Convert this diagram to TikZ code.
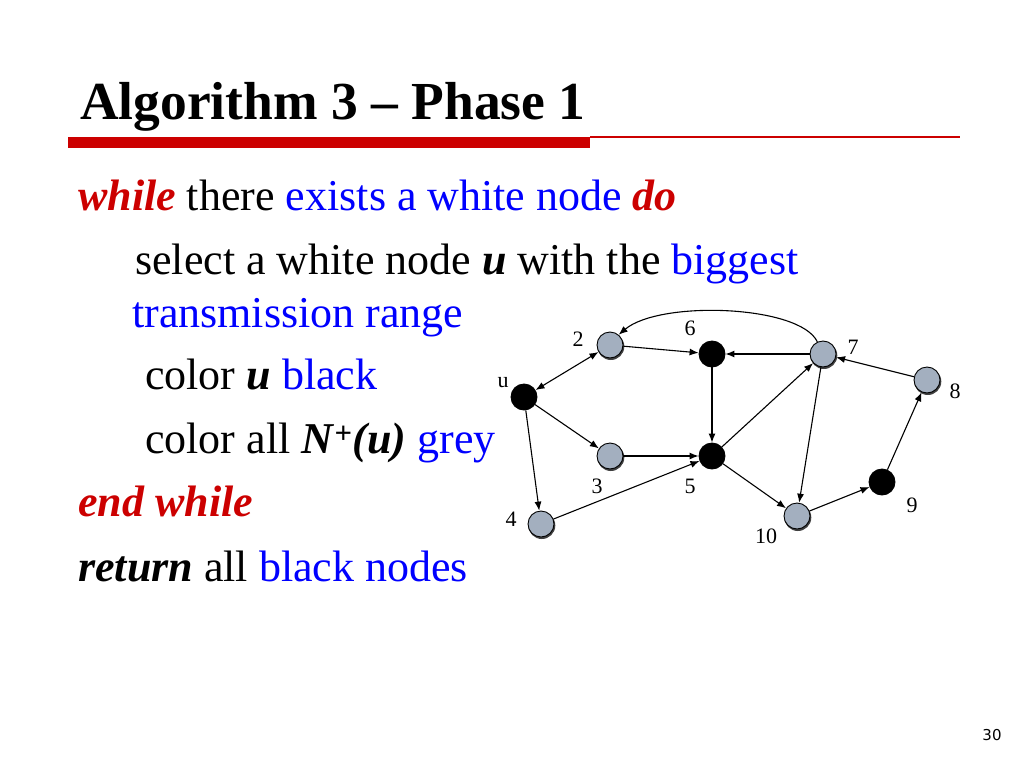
\documentclass[tikz,border=0pt]{standalone}
\usepackage{fontspec}
\setmainfont{Liberation Serif}
\newfontfamily\pagefont{DejaVu Sans}
\usetikzlibrary{arrows.meta}
\definecolor{myred}{HTML}{CC0000}
\definecolor{myblue}{HTML}{0000FF}
\definecolor{nodegrey}{HTML}{A3AFBF}
\begin{document}
\begin{tikzpicture}[x=1pt,y=-1pt,
  txt/.style={anchor=base west,inner sep=0pt,font=\fontsize{44}{50}\selectfont},
  gnode/.style={circle,draw=black,line width=0.9pt,fill=nodegrey,minimum size=26pt,inner sep=0pt},
  bnode/.style={circle,draw=black,line width=0.9pt,fill=black,minimum size=26pt,inner sep=0pt},
  lbl/.style={inner sep=0pt,font=\fontsize{22}{24}\selectfont},
  arr/.style={line width=1.1pt,-{Latex[length=9pt,width=7pt]}},
  barr/.style={line width=1.1pt,{Latex[length=9pt,width=7pt]}-{Latex[length=9pt,width=7pt]}}]
\useasboundingbox[fill=white] (0,0) rectangle (1024,768);
% title
\node[anchor=base west,inner sep=0pt,font=\fontsize{53.5}{60}\selectfont\bfseries] (title) at (80,119) {Algorithm 3 -- Phase 1};
\fill[myred] (68,137) rectangle (590,148);
\fill[myred] (590,135.5) rectangle (960,137.5);
% text
\node[txt] (t1) at (78,210) {\textcolor{myred}{\textbf{\textit{while}}} there \textcolor{myblue}{exists a white node} \textcolor{myred}{\textbf{\textit{do}}}};
\node[txt] (t2) at (135,274) {select a white node \textbf{\textit{u}} with the \textcolor{myblue}{biggest}};
\node[txt] (t3) at (132,327) {\textcolor{myblue}{transmission range}};
\node[txt] (t4) at (145,389) {color \textbf{\textit{u}} \textcolor{myblue}{black}};
\node[txt] (t5) at (145,453) {color all \textbf{\textit{N}}\textsuperscript{\textbf{+}}\textbf{\textit{(u)}} \textcolor{myblue}{grey}};
\node[txt] (t6) at (78,516) {\textcolor{myred}{\textbf{\textit{end while}}}};
\node[txt] (t7) at (78,581) {\textbf{\textit{return}} all \textcolor{myblue}{black nodes}};
% graph nodes (with slight shadow)
\foreach \p in {(610,345),(823,354),(927,380),(610,456),(541,524),(797,516)}
  \fill[black!75] \p ++(0.8,1.5) circle (13.5pt);
\node[bnode] (u) at (524,397) {};
\node[gnode] (n2) at (610,345) {};
\node[bnode] (n6) at (712,354) {};
\node[gnode] (n7) at (823,354) {};
\node[gnode] (n8) at (927,380) {};
\node[gnode] (n3) at (610,456) {};
\node[bnode] (n5) at (712,456) {};
\node[gnode] (n4) at (541,524) {};
\node[gnode] (n10) at (797,516) {};
\node[bnode] (n9) at (882,482) {};
% labels
\node[lbl] (lu) at (503,383) {u};
\node[lbl] (l2) at (578,339) {2};
\node[lbl] (l6) at (690,328) {6};
\node[lbl] (l7) at (853,347) {7};
\node[lbl] (l8) at (955,391) {8};
\node[lbl] (l3) at (597,486) {3};
\node[lbl] (l5) at (690,486) {5};
\node[lbl] (l4) at (511,519) {4};
\node[lbl] (l10) at (766,536) {10};
\node[lbl] (l9) at (912,505) {9};
% edges
\draw[barr] (u) -- (n2);
\draw[arr] (u) -- (n3);
\draw[arr] (u) -- (n4);
\draw[arr] (n2) -- (n6);
\draw[arr] (n7) -- (n6);
\draw[arr] (n6) -- (n5);
\draw[arr] (n3) -- (n5);
\draw[arr] (n4) -- (n5);
\draw[arr] (n5) -- (n7);
\draw[arr] (n5) -- (n10);
\draw[arr] (n7) -- (n10);
\draw[arr] (n8) -- (n7);
\draw[arr] (n10) -- (n9);
\draw[arr] (n9) -- (n8);
\draw[arr] (n7.115) .. controls (800,305) and (660,300) .. (n2.50);
% page number
\node[inner sep=0pt,font=\pagefont\fontsize{15}{17}\selectfont] (pg) at (992,735) {30};
\end{tikzpicture}
\end{document}
